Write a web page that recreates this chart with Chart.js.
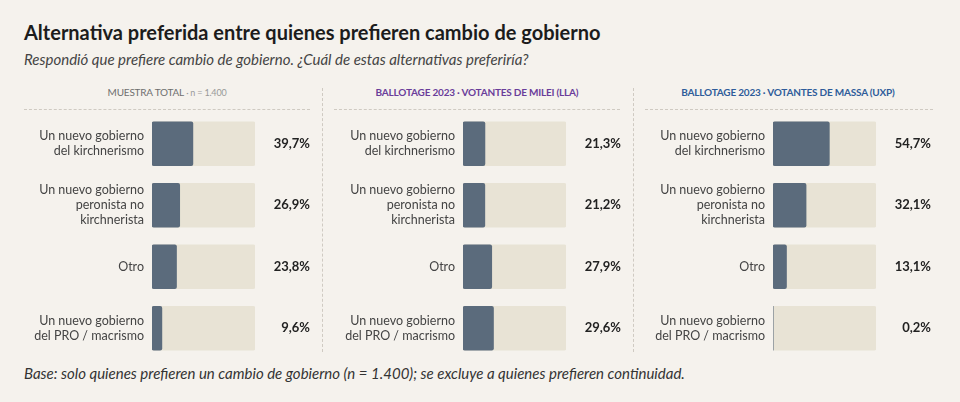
<!DOCTYPE html>
<html>
<head>
<meta charset="utf-8">
<script src="https://cdn.jsdelivr.net/npm/chart.js@4.4.1/dist/chart.umd.min.js"></script>
<style>
  html, body { margin:0; padding:0; }
  body { width:960px; height:402px; background:#f5f2ed; position:relative; overflow:hidden; font-family:Lato, "Open Sans", sans-serif; }
  .title { position:absolute; left:24px; top:20px; font-size:20px; font-weight:700; color:#1c1c1c; white-space:nowrap; }
  .subtitle { position:absolute; left:24px; top:50px; font-size:15px; font-style:italic; color:#444; white-space:nowrap; }
  .footer { position:absolute; left:24px; top:364px; font-size:15px; font-style:italic; color:#333; white-space:nowrap; }
  .hdr { position:absolute; top:86px; width:286px; text-align:center; font-size:10px; white-space:nowrap; letter-spacing:-0.2px; }
  .hdr .small { font-size:9px; color:#999; }
  .hline { position:absolute; top:109px; height:0; border-top:1px dashed #cfcac2; }
  .vline { position:absolute; top:88px; height:264px; width:0; border-left:1px dashed #cfcac2; }
  canvas { position:absolute; }
</style>
</head>
<body>
<div class="title">Alternativa preferida entre quienes prefieren cambio de gobierno</div>
<div class="subtitle">Respondió que prefiere cambio de gobierno. ¿Cuál de estas alternativas preferiría?</div>

<div class="hdr" style="left:24px;color:#6f6f6f;">MUESTRA TOTAL <span class="small">· n = 1.400</span></div>
<div class="hdr" style="left:334px;color:#6a3d9a;font-weight:700;">BALLOTAGE 2023 · VOTANTES DE MILEI (LLA)</div>
<div class="hdr" style="left:645px;color:#2e5c9a;font-weight:700;">BALLOTAGE 2023 · VOTANTES DE MASSA (UXP)</div>

<div class="hline" style="left:24px;width:286px;"></div>
<div class="hline" style="left:334px;width:286px;"></div>
<div class="hline" style="left:645px;width:288px;"></div>
<div class="vline" style="left:322px;"></div>
<div class="vline" style="left:633px;"></div>

<canvas id="c1" width="290" height="246" style="left:24px;top:113px;width:290px;height:246px;"></canvas>
<canvas id="c2" width="290" height="246" style="left:335px;top:113px;width:290px;height:246px;"></canvas>
<canvas id="c3" width="290" height="246" style="left:645px;top:113px;width:290px;height:246px;"></canvas>

<div class="footer">Base: solo quienes prefieren un cambio de gobierno (n = 1.400); se excluye a quienes prefieren continuidad.</div>

<script>
const categories = [
  ["Un nuevo gobierno", "del kirchnerismo"],
  ["Un nuevo gobierno", "peronista no", "kirchnerista"],
  ["Otro"],
  ["Un nuevo gobierno", "del PRO / macrismo"]
];
const totalValues = [39.7, 26.9, 23.8, 9.6];
const mileiValues = [21.3, 21.2, 27.9, 29.6];
const massaValues = [54.7, 32.1, 13.1, 0.2];
const trackValues = [100, 100, 100, 100];

const barColor = '#5b6b7c';
const trackColor = '#e8e3d5';

const valueLabels = {
  id: 'valueLabels',
  afterDatasetsDraw(chart) {
    const ctx = chart.ctx;
    const meta = chart.getDatasetMeta(0);
    const data = chart.data.datasets[0].data;
    ctx.save();
    ctx.font = 'bold 13px Lato, sans-serif';
    ctx.fillStyle = '#222';
    ctx.textAlign = 'right';
    ctx.textBaseline = 'middle';
    meta.data.forEach((el, i) => {
      const txt = data[i].toFixed(1).replace('.', ',') + '%';
      ctx.fillText(txt, chart.width - 4, el.y);
    });
    ctx.restore();
  }
};

function makeChart(id, values) {
  return new Chart(document.getElementById(id), {
    type: 'bar',
    data: {
      labels: categories,
      datasets: [
        { data: values, backgroundColor: barColor, borderRadius: 2, borderSkipped: false, barThickness: 44, grouped: false, order: 0 },
        { data: trackValues, backgroundColor: trackColor, borderRadius: 2, borderSkipped: false, barThickness: 44, grouped: false, order: 1 }
      ]
    },
    options: {
      indexAxis: 'y',
      responsive: false,
      animation: false,
      layout: { padding: { left: 0, right: 59, top: 0, bottom: 0 } },
      plugins: { legend: { display: false }, tooltip: { enabled: false } },
      scales: {
        x: { display: false, min: 0, max: 100 },
        y: {
          grid: { display: false, drawTicks: false },
          border: { display: false },
          afterFit(scale) { scale.width = 128; scale.paddingTop = 0; scale.paddingBottom = 0; },
          ticks: {
            padding: 8,
            color: '#444',
            font: { family: 'Lato, sans-serif', size: 12.5, lineHeight: 1.2 }
          }
        }
      }
    },
    plugins: [valueLabels]
  });
}

makeChart('c1', totalValues);
makeChart('c2', mileiValues);
makeChart('c3', massaValues);
</script>
</body>
</html>
